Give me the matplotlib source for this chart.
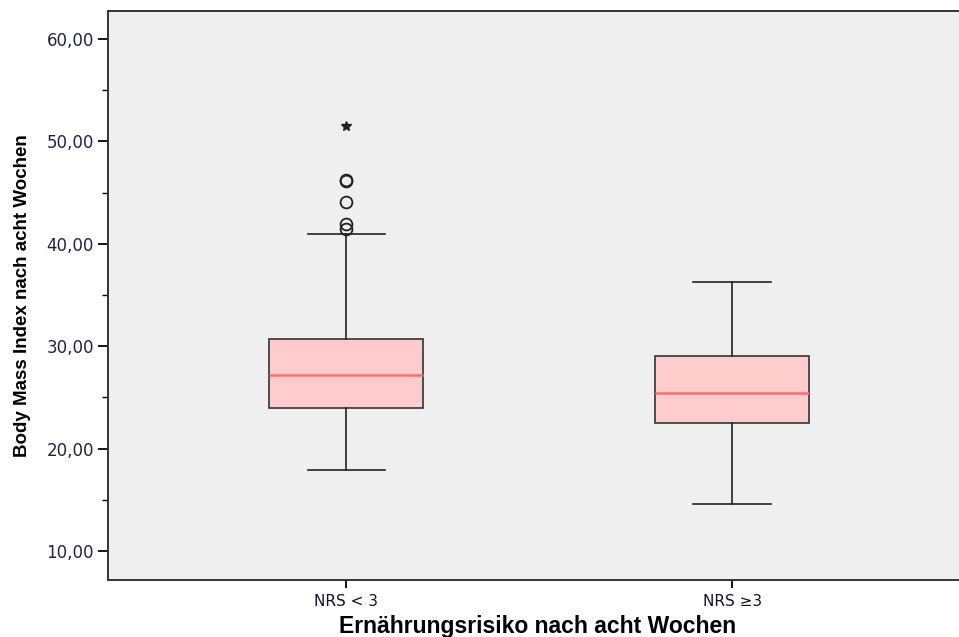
import matplotlib.pyplot as plt
from matplotlib.ticker import FuncFormatter, MultipleLocator

# group labels
lstGroups = ['NRS < 3', 'NRS \u22653']

# box statistics
lstQ1      = [24.0, 22.5]
lstMedian  = [27.2, 25.4]
lstQ3      = [30.7, 29.05]
lstWhiskLo = [17.9, 14.6]
lstWhiskHi = [41.0, 36.3]

# outliers (circles) and extremes (stars)
lstOutliers = [[41.4, 41.9, 44.05, 46.1, 46.25], []]
lstExtremes = [[51.5], []]

c_strBoxFill   = '#FFCCCC'
c_strMedian    = '#FF6B6B'
c_strAxesColor = '#EFEFEF'

fig = plt.figure(figsize=(9.59, 6.37), dpi=100)
ax = fig.add_axes([108/959, 1 - 580/637, 1 - 108/959, (580 - 11)/637])
ax.set_facecolor(c_strAxesColor)

lstStats = list()
for i in range(len(lstGroups)):
   lstStats.append(dict(label=lstGroups[i], q1=lstQ1[i], med=lstMedian[i], q3=lstQ3[i],
                        whislo=lstWhiskLo[i], whishi=lstWhiskHi[i], fliers=lstOutliers[i]))

ax.bxp(lstStats, positions=[1, 2], widths=0.4, capwidths=0.2, patch_artist=True,
       boxprops=dict(facecolor=c_strBoxFill, edgecolor='#333333', linewidth=1.2),
       medianprops=dict(color=c_strMedian, linewidth=1.8),
       whiskerprops=dict(color='#222222', linewidth=1.2),
       capprops=dict(color='#222222', linewidth=1.2),
       flierprops=dict(marker='o', markerfacecolor='none', markeredgecolor='#222222',
                       markersize=8.5, markeredgewidth=1.3))

for i in range(len(lstGroups)):
   if lstExtremes[i]:
      ax.plot([i + 1] * len(lstExtremes[i]), lstExtremes[i], linestyle='none', marker='*',
              color='#222222', markersize=7)

ax.set_xlim(0.383, 2.588)
ax.set_ylim(7.17, 62.73)
ax.yaxis.set_major_locator(MultipleLocator(10))
ax.yaxis.set_minor_locator(MultipleLocator(5))
ax.yaxis.set_major_formatter(FuncFormatter(lambda v, p: ('%.2f' % v).replace('.', ',')))
ax.set_xticks([1, 2])
ax.set_xticklabels(lstGroups, fontsize=11, color='#111133')
ax.tick_params(axis='y', which='major', length=7, width=1.3, labelsize=12, labelcolor='#222244', pad=3)
ax.tick_params(axis='y', which='minor', length=4, width=1.0)
ax.tick_params(axis='x', length=6, width=1.3, pad=4)

for s in ['left', 'bottom', 'top']:
   ax.spines[s].set_linewidth(1.4)
   ax.spines[s].set_color('#333333')
ax.spines['right'].set_visible(False)

ax.set_xlabel('Ernährungsrisiko nach acht Wochen', fontsize=16.5, fontweight='bold',
              family='Liberation Sans', va='center')
ax.xaxis.set_label_coords(0.505, -0.0826)
ax.set_ylabel('Body Mass Index nach acht Wochen', fontsize=13.5, fontweight='bold',
              family='Liberation Sans', va='center')
ax.yaxis.set_label_coords(-0.101, 0.5)

fig.savefig('out.png', dpi=100)
